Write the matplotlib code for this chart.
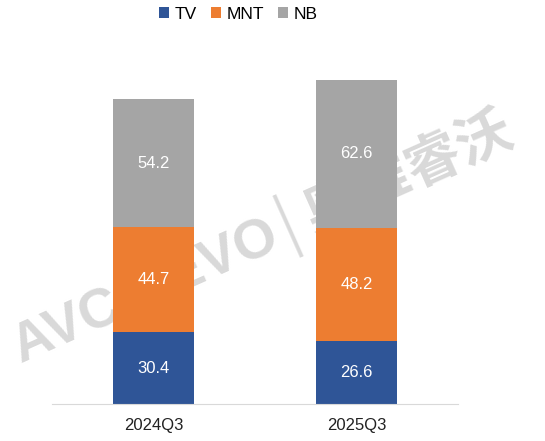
import numpy as np
import matplotlib
matplotlib.use("Agg")
import matplotlib.pyplot as plt

plt.rcParams['font.family'] = ['Liberation Sans', 'Noto Sans CJK SC', 'DejaVu Sans']

categories = ["2024Q3", "2025Q3"]
tv = [30.4, 26.6]
mnt = [44.7, 48.2]
nb = [54.2, 62.6]
series_names = ["TV", "MNT", "NB"]
colors = ["#2F5597", "#ED7D31", "#A5A5A5"]

fig = plt.figure(figsize=(5.45, 4.41), dpi=100)
ax = fig.add_axes([0.0954, 0.0839, 0.745, 0.855])

# faint watermark behind the bars
fig.text(0.48, 0.46, "AVC REVO│奥维睿沃", fontsize=40, fontweight='bold',
         color="#d9d9d9", rotation=24, ha='center', va='center', zorder=0)
ax.set_zorder(1)
ax.patch.set_alpha(0)

x = np.arange(len(categories))
bottom = np.zeros(len(categories))
for name, vals, c in zip(series_names, [tv, mnt, nb], colors):
    bars = ax.bar(x, vals, 0.4, bottom=bottom, color=c, label=name)
    for b, v, bt in zip(bars, vals, bottom):
        ax.text(b.get_x() + b.get_width() / 2, bt + v / 2, f"{v:.1f}",
                ha='center', va='center', color='white', fontsize=12)
    bottom += np.array(vals)

ax.set_xlim(-0.5, 1.5)
ax.set_ylim(0, 160)
ax.set_xticks(x)
ax.set_xticklabels(categories, fontsize=12, color="#222222")
ax.tick_params(axis='x', length=0, pad=10)
ax.set_yticks([])
for s in ['top', 'right', 'left']:
    ax.spines[s].set_visible(False)
ax.spines['bottom'].set_color("#d9d9d9")

fig.legend(loc='center', bbox_to_anchor=(0.437, 0.968), ncol=3, frameon=False,
           fontsize=12.5, handlelength=0.6, handleheight=0.6, handletextpad=0.3,
           columnspacing=0.8)

fig.savefig("out.png", dpi=100)
